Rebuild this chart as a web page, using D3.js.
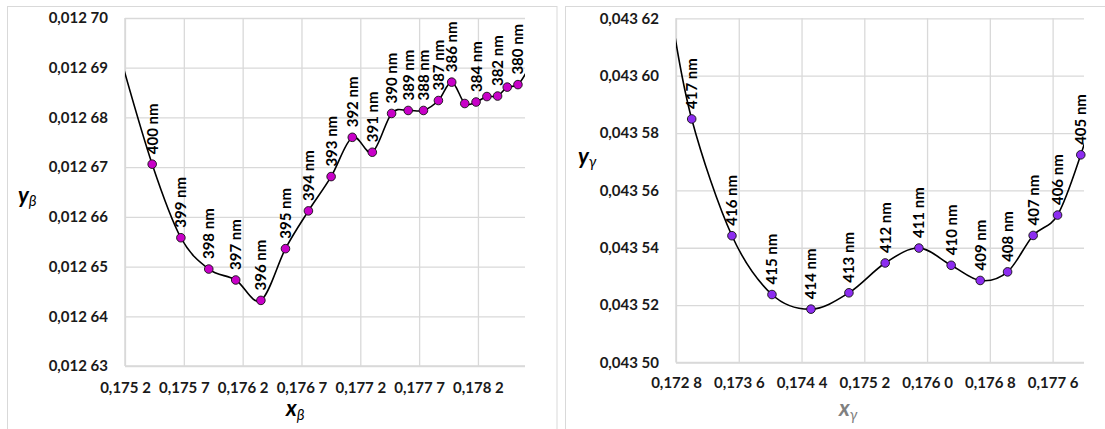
<!DOCTYPE html>
<html>
<head>
<meta charset="utf-8">
<script src="https://cdn.jsdelivr.net/npm/d3@7"></script>
<style>
  body { margin: 0; background: #fff; }
  text { font-family: Lato, "Open Sans", sans-serif; }
</style>
</head>
<body>
<div id="main"></div>
<script>
// left panel (beta)
const betaNm = [401, 400, 399, 398, 397, 396, 395, 394, 393, 392, 391, 390, 389, 388, 387, 386, 385, 384, 383, 382, 381, 380, 379];
const betaX = [0.175165, 0.175431, 0.175675, 0.175912, 0.176141, 0.176355, 0.176564, 0.176759, 0.176952, 0.177132, 0.177302,
               0.177466, 0.177607, 0.177737, 0.177864, 0.177977, 0.178088, 0.178184, 0.178276, 0.178367, 0.178449, 0.178540, 0.178632];
const betaY = [0.0126918, 0.0126706, 0.0126558, 0.0126495, 0.0126473, 0.0126432, 0.0126536, 0.0126612, 0.0126681, 0.0126760, 0.0126730,
               0.0126808, 0.0126814, 0.0126814, 0.0126834, 0.0126871, 0.0126828, 0.0126831, 0.0126842, 0.0126843, 0.0126861, 0.0126866, 0.0126900];
const betaLabelled = [400, 399, 398, 397, 396, 395, 394, 393, 392, 391, 390, 389, 388, 387, 386, 384, 382, 380];
const betaXTicks = [0.1752, 0.1757, 0.1762, 0.1767, 0.1772, 0.1777, 0.1782];
const betaYTicks = [0.01263, 0.01264, 0.01265, 0.01266, 0.01267, 0.01268, 0.01269, 0.01270];

// right panel (gamma)
const gammaNm = [418, 417, 416, 415, 414, 413, 412, 411, 410, 409, 408, 407, 406, 405, 404];
const gammaX = [0.172724, 0.173000, 0.173513, 0.174023, 0.174520, 0.175004, 0.175466, 0.175896, 0.176307, 0.176677, 0.177026,
                0.177352, 0.177663, 0.177959, 0.178204];
const gammaY = [0.0436246, 0.0435849, 0.0435442, 0.0435237, 0.0435186, 0.0435243, 0.0435347, 0.0435399, 0.0435339, 0.0435286,
                0.0435316, 0.0435443, 0.0435514, 0.0435724, 0.0435950];
const gammaLabelled = [417, 416, 415, 414, 413, 412, 411, 410, 409, 408, 407, 406, 405];
const gammaXTicks = [0.1728, 0.1736, 0.1744, 0.1752, 0.1760, 0.1768, 0.1776];
const gammaYTicks = [0.04350, 0.04352, 0.04354, 0.04356, 0.04358, 0.04360, 0.04362];

const ctx = { WIDTH: 1105, HEIGHT: 429 };

// "0.01270" -> "0,012 70"
function fmtNum(digits){
    const f = d3.format("." + digits + "f");
    return d => {
        let parts = f(d).split(".");
        return parts[0] + "," + parts[1].slice(0, 3) + " " + parts[1].slice(3);
    };
}

function drawPanel(svg, cfg){
    let g = svg.append("g");
    // panel frame
    g.append("rect").attr("x", cfg.frame[0]).attr("y", cfg.frame[1])
        .attr("width", cfg.frame[2]).attr("height", cfg.frame[3])
        .attr("fill", "none").attr("stroke", "#d9d9d9").attr("stroke-width", 1);

    let x = d3.scaleLinear().domain(cfg.xDomain).range([cfg.left, cfg.right]);
    let y = d3.scaleLinear().domain(cfg.yDomain).range([cfg.bottom, cfg.top]);
    let w = cfg.right - cfg.left, h = cfg.bottom - cfg.top;

    let yAxis = g.append("g").attr("transform", `translate(${cfg.left},0)`)
        .call(d3.axisLeft(y).tickValues(cfg.yTicks).tickSize(-w).tickPadding(17).tickFormat(fmtNum(5)));
    let xAxis = g.append("g").attr("transform", `translate(0,${cfg.bottom})`)
        .call(d3.axisBottom(x).tickValues(cfg.xTicks).tickSize(-h).tickPadding(cfg.xPad).tickFormat(fmtNum(4)));
    [xAxis, yAxis].forEach(a => {
        a.select(".domain").remove();
        a.selectAll("line").attr("stroke", "#d9d9d9").attr("stroke-width", 1.3);
        a.selectAll("text").attr("fill", "#1a1a1a").style("font-size", "15px").style("font-weight", "bold")
            .style("font-family", "Lato, sans-serif");
    });
    // axis lines (left + bottom)
    g.append("line").attr("x1", cfg.left).attr("x2", cfg.left).attr("y1", cfg.top).attr("y2", cfg.bottom)
        .attr("stroke", "#d9d9d9").attr("stroke-width", 1.5);
    g.append("line").attr("x1", cfg.left).attr("x2", cfg.right).attr("y1", cfg.bottom).attr("y2", cfg.bottom)
        .attr("stroke", "#d9d9d9").attr("stroke-width", 1.5);

    let data = cfg.nm.map((n, i) => ({ nm: n, x: cfg.xs[i], y: cfg.ys[i] }));

    g.append("clipPath").attr("id", cfg.id + "clip")
        .append("rect").attr("x", cfg.left).attr("y", cfg.top - 8).attr("width", w).attr("height", h + 8);

    let line = d3.line().x(d => x(d.x)).y(d => y(d.y)).curve(d3.curveCatmullRom.alpha(0));
    g.append("path").datum(data).attr("d", line)
        .attr("clip-path", `url(#${cfg.id}clip)`)
        .attr("fill", "none").attr("stroke", "#000").attr("stroke-width", 1.6);

    let inside = data.filter(d => d.x >= cfg.xDomain[0] && d.x <= cfg.xDomain[1]);
    g.selectAll("circle.pt").data(inside).enter().append("circle")
        .attr("class", "pt")
        .attr("cx", d => x(d.x)).attr("cy", d => y(d.y)).attr("r", 4.3)
        .attr("fill", cfg.color).attr("stroke", "#111").attr("stroke-width", 0.9);

    g.selectAll("text.lbl").data(inside.filter(d => cfg.labelled.includes(d.nm))).enter().append("text")
        .attr("class", "lbl")
        .attr("transform", d => `translate(${x(d.x) + 5.5},${y(d.y) - 10}) rotate(-90)`)
        .attr("fill", "#000").style("font-size", "15px").style("font-weight", "bold")
        .text(d => d.nm + " nm");

    // axis titles
    let xt = g.append("text").attr("x", cfg.xTitle[0]).attr("y", cfg.xTitle[1])
        .attr("fill", cfg.xTitleColor).style("font-size", "22px").style("font-weight", "bold").style("font-style", "italic");
    xt.append("tspan").text("x");
    xt.append("tspan").attr("dy", 4).style("font-size", "15px").style("font-weight", "normal").text(cfg.sym);

    let yt = g.append("text").attr("x", cfg.yTitle[0]).attr("y", cfg.yTitle[1])
        .attr("fill", "#000").style("font-size", "22px").style("font-weight", "bold").style("font-style", "italic");
    yt.append("tspan").text("y");
    yt.append("tspan").attr("dy", 3).style("font-size", "15px").style("font-weight", "normal").text(cfg.sym);
}

function createViz(){
    let svg = d3.select("#main").append("svg")
        .attr("width", ctx.WIDTH).attr("height", ctx.HEIGHT);
    svg.append("rect").attr("width", ctx.WIDTH).attr("height", ctx.HEIGHT).attr("fill", "#fff");

    drawPanel(svg, {
        id: "beta", frame: [7.5, 6.5, 549.5, 440],
        left: 125, right: 525, top: 18, bottom: 366, xPad: 16,
        xDomain: [0.1752, 0.1786], yDomain: [0.01263, 0.01270],
        xTicks: betaXTicks, yTicks: betaYTicks,
        nm: betaNm, xs: betaX, ys: betaY, labelled: betaLabelled,
        color: "#c800c8", sym: "β",
        xTitle: [286, 416], xTitleColor: "#000", yTitle: [18, 203]
    });

    drawPanel(svg, {
        id: "gamma", frame: [565.5, 6.5, 560, 440],
        left: 676, right: 1084, top: 18.3, bottom: 362.5, xPad: 15,
        xDomain: [0.1728, 0.1780], yDomain: [0.04350, 0.04362],
        xTicks: gammaXTicks, yTicks: gammaYTicks,
        nm: gammaNm, xs: gammaX, ys: gammaY, labelled: gammaLabelled,
        color: "#8c2cf0", sym: "γ",
        xTitle: [839, 416], xTitleColor: "#808080", yTitle: [578, 164]
    });
}

createViz();
</script>
</body>
</html>
